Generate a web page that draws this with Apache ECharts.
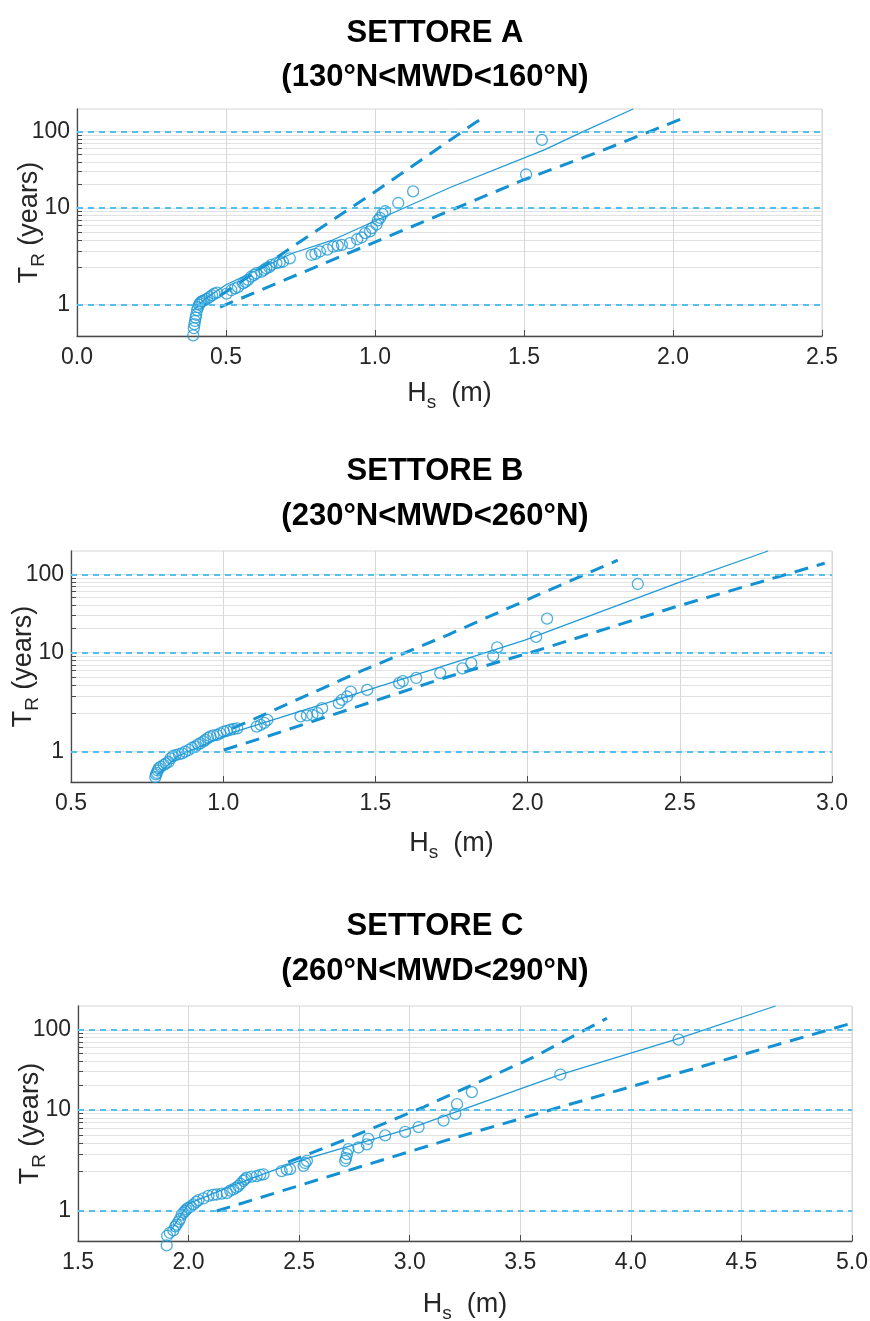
<!DOCTYPE html>
<html><head><meta charset="utf-8">
<script src="https://cdn.jsdelivr.net/npm/echarts@6/dist/echarts.min.js"></script>
<style>html,body{margin:0;padding:0;background:#fff}#c{width:870px;height:1321px}</style>
</head><body><div id="c"></div>
<script>
// Return-period axis: Gumbel-type reduced variate with POT rate LAMBDA
const LAMBDA = 1.25;
const T_MIN = [0.812, 0.815, 0.817];
const T_MAX = 200;
const Y_TICKS = [1,2,3,4,5,6,7,8,9,10,20,30,40,50,60,70,80,90,100];
const Y_LABELS = [1,10,100];
const X_RANGES = [[0,2.5],[0.5,3.0],[1.5,5.0]];
const X_INTERVAL = 0.5;
const TITLES = [
  ['SETTORE A','(130°N<MWD<160°N)'],
  ['SETTORE B','(230°N<MWD<260°N)'],
  ['SETTORE C','(260°N<MWD<290°N)']
];

// Panel A data (Hs [m], T_R [years])
const scatterA = [[0.390,0.813],[0.392,0.83],[0.394,0.845],[0.396,0.86],[0.398,0.88],[0.400,0.90],[0.403,0.94],[0.406,0.97],[0.410,1.0],[0.413,1.02],[0.417,1.04],[0.422,1.05],[0.428,1.06],[0.436,1.08],[0.445,1.11],[0.453,1.14],[0.461,1.17],[0.470,1.19],[0.502,1.17],[0.518,1.24],[0.530,1.28],[0.540,1.31],[0.557,1.41],[0.565,1.45],[0.574,1.51],[0.585,1.62],[0.595,1.68],[0.602,1.74],[0.619,1.80],[0.628,1.88],[0.635,1.95],[0.645,2.0],[0.652,2.11],[0.669,2.2],[0.680,2.24],[0.691,2.28],[0.714,2.48],[0.787,2.70],[0.800,2.78],[0.815,2.95],[0.840,3.1],[0.860,3.35],[0.875,3.45],[0.889,3.52],[0.916,3.68],[0.940,4.1],[0.955,4.3],[0.967,4.85],[0.983,5.1],[0.990,5.6],[1.005,6.2],[1.010,7.0],[1.017,7.5],[1.025,8.4],[1.034,9.1],[1.078,11.6],[1.128,16.4],[1.507,27.2],[1.560,77.9]];
const fitA = [[0.395,0.95],[0.43,1.08],[0.5,1.37],[0.723,2.82],[0.86,4.04],[1.084,9.5],[1.252,18.4],[1.57,58],[1.698,100],[1.866,200]];
const upperA = [[0.48,1.13],[0.715,3.2],[0.994,15.6],[1.336,131],[1.35,142]];
const lowerA = [[0.48,0.97],[1.0,3.8],[1.498,23.1],[1.755,54.8],[2.04,154]];

// Panel B data
const scatterB = [[0.777,0.826],[0.779,0.835],[0.782,0.84],[0.785,0.85],[0.788,0.86],[0.795,0.87],[0.805,0.88],[0.812,0.89],[0.821,0.90],[0.827,0.93],[0.835,0.95],[0.843,0.96],[0.855,0.97],[0.865,0.98],[0.875,1.0],[0.887,1.02],[0.898,1.05],[0.909,1.07],[0.918,1.10],[0.925,1.12],[0.935,1.15],[0.942,1.18],[0.950,1.22],[0.958,1.25],[0.968,1.27],[0.980,1.28],[0.990,1.32],[1.002,1.36],[1.012,1.38],[1.024,1.41],[1.035,1.43],[1.046,1.45],[1.110,1.5],[1.123,1.55],[1.135,1.62],[1.145,1.72],[1.254,1.86],[1.275,1.9],[1.293,1.92],[1.310,2.0],[1.325,2.25],[1.380,2.54],[1.390,2.75],[1.407,3.0],[1.419,3.4],[1.473,3.56],[1.578,4.26],[1.590,4.5],[1.634,4.9],[1.713,5.6],[1.786,6.4],[1.815,7.4],[1.887,9.1],[1.900,11.6],[2.028,15.7],[2.064,26.8],[2.362,74.8]];
const fitB = [[0.78,0.83],[0.85,0.95],[1.035,1.35],[1.49,3.67],[1.989,14.2],[2.491,77],[2.79,200]];
const upperB = [[1.03,1.45],[1.084,1.67],[1.452,5.9],[1.737,16.6],[2.032,53.6],[2.296,152]];
const lowerB = [[1.002,1.02],[1.145,1.25],[1.726,4.9],[2.021,10.3],[2.494,38.9],[2.976,139]];

// Panel C data
const scatterC = [[1.901,0.81],[1.903,0.83],[1.915,0.84],[1.931,0.85],[1.940,0.87],[1.946,0.88],[1.955,0.9],[1.961,0.92],[1.969,0.96],[1.977,0.98],[1.984,1.0],[1.990,1.02],[1.999,1.04],[2.010,1.06],[2.022,1.09],[2.035,1.13],[2.045,1.16],[2.067,1.19],[2.090,1.24],[2.110,1.26],[2.127,1.27],[2.150,1.29],[2.173,1.3],[2.188,1.36],[2.202,1.39],[2.215,1.44],[2.225,1.48],[2.235,1.55],[2.248,1.64],[2.255,1.7],[2.263,1.76],[2.285,1.8],[2.308,1.82],[2.324,1.87],[2.339,1.89],[2.421,2.03],[2.444,2.1],[2.459,2.12],[2.520,2.29],[2.527,2.45],[2.535,2.58],[2.708,2.58],[2.712,2.75],[2.716,3.04],[2.723,3.45],[2.768,3.6],[2.806,3.9],[2.813,4.5],[2.889,4.95],[2.979,5.45],[3.040,6.2],[3.153,7.4],[3.206,8.9],[3.214,11.7],[3.281,16.5],[3.681,27.3],[4.216,75]];
const fitC = [[1.92,0.85],[2.0,1.1],[2.2,1.5],[2.5,2.58],[2.995,5.9],[3.68,27.3],[4.2,75],[4.654,200]];
const upperC = [[2.45,2.5],[2.716,4.5],[3.063,10.8],[3.56,45],[3.892,140]];
const lowerC = [[2.127,1.0],[3.16,4.3],[3.681,10.8],[4.465,45],[4.993,120]];

const PANELS = [
  {scatter: scatterA, fit: fitA, upper: upperA, lower: lowerA},
  {scatter: scatterB, fit: fitB, upper: upperB, lower: lowerB},
  {scatter: scatterC, fit: fitC, upper: upperC, lower: lowerC}
];

// ---- scale transform ----
function toV(T){ return -Math.log(-Math.log(1 - 1/(LAMBDA*T))); }
function fromV(v){ return 1/(LAMBDA*(1 - Math.exp(-Math.exp(-v)))); }
const tr = arr => arr.map(p => [p[0], toV(p[1])]);

// ---- layout ----
const GRIDS = [
  {left:77, top:109, width:745, height:227},
  {left:71, top:551, width:761, height:231},
  {left:78, top:1006, width:774, height:235}
];
const TITLE_Y = [[18, 62],[456, 501],[911, 956]];
const XNAME_GAP = [40, 44, 46];

const FONT = 'Liberation Sans';
const BLUE = '#1f9ad6';
const REF_BLUE = '#55c0ec';
const TXT = '#262626';

const option = {
  animation:false,
  backgroundColor:'#fff',
  title:[], grid:[], xAxis:[], yAxis:[], series:[]
};

PANELS.forEach((P, i) => {
  TITLES[i].forEach((t, k) => option.title.push({
    text: t, left: 'center', top: TITLE_Y[i][k], padding: 0,
    textStyle: {fontFamily: FONT, fontWeight: 'bold', fontSize: 31, color: '#000'}
  }));
  option.grid.push(Object.assign({show:true, outerBoundsMode:'none', containLabel:false,
    borderColor:'#d6d6d6', borderWidth:1, backgroundColor:'#fff'}, GRIDS[i]));
  option.xAxis.push({
    type:'value', gridIndex:i, min:X_RANGES[i][0], max:X_RANGES[i][1], interval:X_INTERVAL,
    name:'{m|H}{s|s}{m|  (m)}', nameLocation:'middle', nameGap:XNAME_GAP[i], nameMoveOverlap:false,
    nameTextStyle:{rich:{m:{fontFamily:FONT, fontSize:27, color:TXT}, s:{fontFamily:FONT, fontSize:19, color:TXT, padding:[17,0,0,0]}}},
    axisLine:{show:true, onZero:false, lineStyle:{color:'#4a4a4a', width:1.3}},
    axisTick:{show:true, inside:true, length:6, lineStyle:{color:'#4a4a4a'}},
    axisLabel:{fontFamily:FONT, fontSize:23, color:TXT, margin:10, formatter: v => v.toFixed(1)},
    splitLine:{show:true, lineStyle:{color:'#d8d8d8', width:1}}
  });
  option.yAxis.push({
    type:'value', gridIndex:i, min:toV(T_MIN[i]), max:toV(T_MAX),
    name:'{m|T}{s|R}{m| (years)}', nameLocation:'middle', nameGap:29, nameRotate:90, nameMoveOverlap:false,
    nameTextStyle:{rich:{m:{fontFamily:FONT, fontSize:27, color:TXT}, s:{fontFamily:FONT, fontSize:19, color:TXT, padding:[17,0,0,0]}}},
    axisLine:{show:true, onZero:false, lineStyle:{color:'#4a4a4a', width:1.3}},
    axisTick:{show:true, inside:true, length:5, customValues: Y_TICKS.map(toV), lineStyle:{color:'#4a4a4a'}},
    axisLabel:{fontFamily:FONT, fontSize:23, color:TXT, margin:7, customValues: Y_LABELS.map(toV),
      formatter: v => String(Math.round(fromV(v)))},
    splitLine:{show:true, lineStyle:{color:'#e2e2e2', width:1}}
  });
  // reference dashed lines at T = 1, 10, 100
  option.series.push({
    type:'line', xAxisIndex:i, yAxisIndex:i, data:[], silent:true, z:1,
    markLine:{silent:true, symbol:'none', label:{show:false},
      lineStyle:{color:REF_BLUE, type:[6,5], width:1.8},
      data: Y_LABELS.map(t => ({yAxis: toV(t)}))}
  });
  const lineBase = {type:'line', xAxisIndex:i, yAxisIndex:i, showSymbol:false, symbol:'none', clip:false, silent:true, z:3};
  option.series.push(Object.assign({}, lineBase, {data: tr(P.fit), lineStyle:{color:BLUE, width:1.3}}));
  option.series.push(Object.assign({}, lineBase, {data: tr(P.upper), lineStyle:{color:'#1391d2', width:3, type:[14,9]}}));
  option.series.push(Object.assign({}, lineBase, {data: tr(P.lower), lineStyle:{color:'#1391d2', width:3, type:[14,9]}}));
  option.series.push({
    type:'scatter', xAxisIndex:i, yAxisIndex:i, data: tr(P.scatter), clip:false, z:4,
    symbol:'circle', symbolSize:11,
    itemStyle:{color:'rgba(0,0,0,0)', borderColor:BLUE, borderWidth:1.3}
  });
});

const chart = echarts.init(document.getElementById('c'), null, {renderer:'canvas'});
chart.setOption(option);
</script></body></html>
